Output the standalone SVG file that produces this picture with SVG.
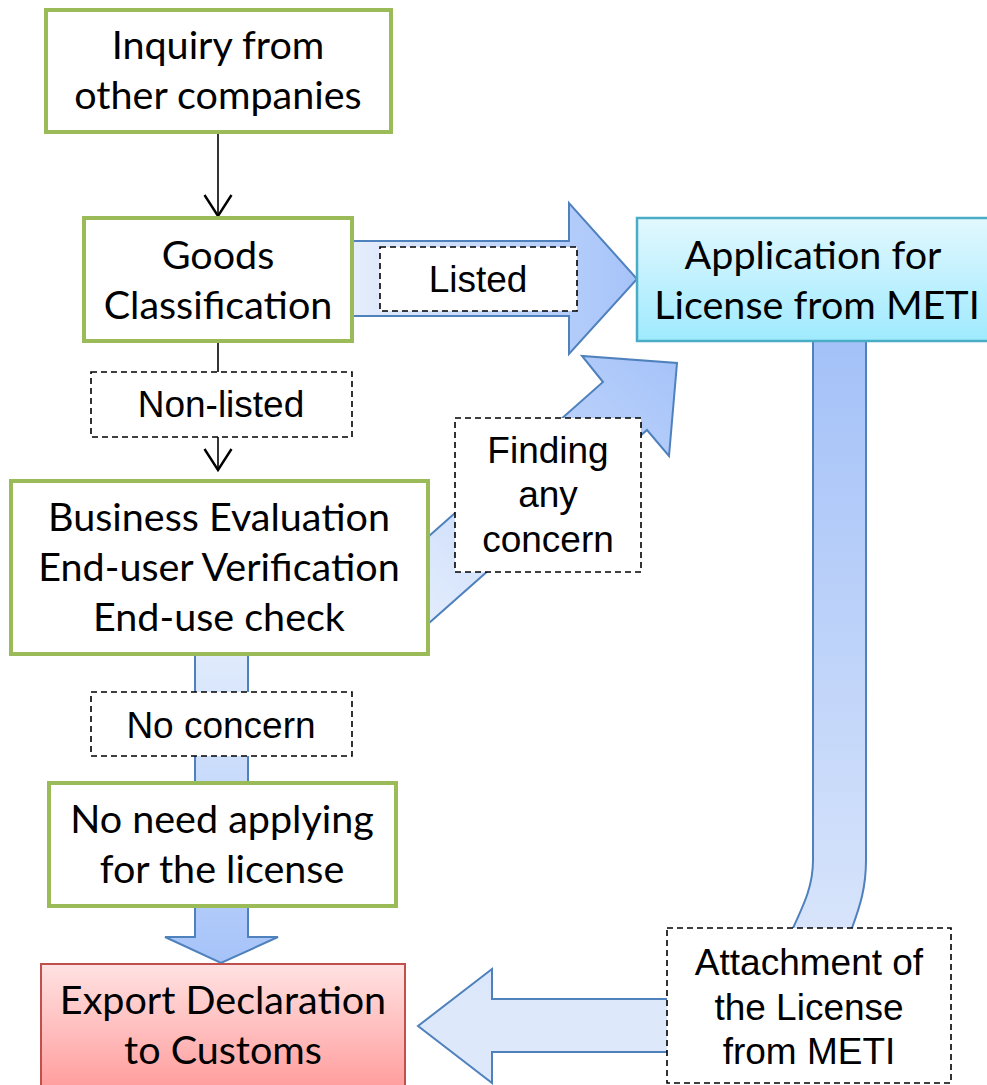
<svg xmlns="http://www.w3.org/2000/svg" width="987" height="1085" viewBox="0 0 987 1085">
<defs>
<style>
.node{fill:#FFFFFF;stroke:#9BBB59;stroke-width:4}
.lbl{fill:#FFFFFF;stroke:#000000;stroke-width:1.6;stroke-dasharray:6 4}
.tc{font-family:Lato,"Open Sans",sans-serif;font-size:39.5px;fill:#000;text-anchor:middle}
.ta{font-family:"Liberation Sans",Arial,sans-serif;font-size:37px;fill:#000;text-anchor:middle}
.blk{stroke:#4F81BD;stroke-width:2;stroke-linejoin:miter}
.ln{fill:none;stroke:#000;stroke-width:1.6}
</style>
<marker id="ah" markerUnits="userSpaceOnUse" markerWidth="30" markerHeight="30" viewBox="-16 -10 20 20" refX="0" refY="0" orient="auto" overflow="visible">
<path d="M-14,-9 L0,0 L-14,9" fill="none" stroke="#000" stroke-width="1.6"/>
</marker>
<linearGradient id="gListed" gradientUnits="userSpaceOnUse" x1="352" y1="0" x2="637" y2="0">
<stop offset="0" stop-color="#E6EEFC"/><stop offset="0.5" stop-color="#C2D7FB"/><stop offset="1" stop-color="#A6C3F9"/>
</linearGradient>
<linearGradient id="gFind" gradientUnits="userSpaceOnUse" x1="430" y1="620" x2="670" y2="360">
<stop offset="0" stop-color="#E2ECFC"/><stop offset="1" stop-color="#A6C3F9"/>
</linearGradient>
<linearGradient id="gDown" gradientUnits="userSpaceOnUse" x1="0" y1="655" x2="0" y2="963">
<stop offset="0" stop-color="#E0EBFC"/><stop offset="1" stop-color="#A6C3F9"/>
</linearGradient>
<linearGradient id="gCurve" gradientUnits="userSpaceOnUse" x1="0" y1="341" x2="0" y2="1000">
<stop offset="0" stop-color="#A4C1F8"/><stop offset="1" stop-color="#DDE8FB"/>
</linearGradient>
<linearGradient id="gMeti" x1="0" y1="0" x2="0" y2="1">
<stop offset="0" stop-color="#E2F8FE"/><stop offset="1" stop-color="#9FEAFE"/>
</linearGradient>
<linearGradient id="gExp" gradientUnits="userSpaceOnUse" x1="0" y1="964" x2="0" y2="1085">
<stop offset="0" stop-color="#FFE2E2"/><stop offset="1" stop-color="#FF9F9F"/>
</linearGradient>
</defs>
<rect width="987" height="1085" fill="#FFFFFF"/>

<g id="connectors">
<line class="ln" x1="218" y1="133" x2="218" y2="216" marker-end="url(#ah)"/>
<line class="ln" x1="218" y1="342" x2="218" y2="372"/>
<line class="ln" x1="218" y1="437" x2="218" y2="470" marker-end="url(#ah)"/>
<path class="blk" fill="url(#gListed)" d="M345,241 L569,241 L569,203 L637,279 L569,354 L569,316 L345,316 Z"/>
<path class="blk" fill="url(#gFind)" d="M420,544 L603,382 L582,356 L677,363 L669,456 L647,430 L420,631 Z"/>
<path class="blk" fill="url(#gDown)" d="M195,650 L248,650 L248,937 L278,937 L221,963 L165,937 L195,937 Z"/>
<path class="blk" fill="url(#gCurve)" d="M813,338 L866,338 L866,860 C866,888 860,906 852,928 C838,968 810,1052 760,1052 L492,1052 L492,1083 L418,1026 L492,969 L492,999 L740,999 C765,999 780,960 793,928 C805,902 813,885 813,860 Z"/>
</g>

<g id="n-inquiry">
<rect class="node" x="46" y="10" width="345" height="122"/>
<text class="tc" x="218" y="59">Inquiry from</text>
<text class="tc" x="218" y="109">other companies</text>
</g>
<g id="n-goods">
<rect class="node" x="84" y="218" width="268" height="123"/>
<text class="tc" x="218" y="269">Goods</text>
<text class="tc" x="218" y="319">Classification</text>
</g>
<g id="n-business">
<rect class="node" x="11" y="481" width="417" height="173"/>
<text class="tc" x="219" y="531">Business Evaluation</text>
<text class="tc" x="219" y="581">End-user Verification</text>
<text class="tc" x="219" y="631">End-use check</text>
</g>
<g id="n-noneed">
<rect class="node" x="49" y="783" width="347" height="123"/>
<text class="tc" x="222" y="833">No need applying</text>
<text class="tc" x="222" y="883">for the license</text>
</g>
<g id="n-export">
<rect x="41" y="964" width="364" height="140" fill="url(#gExp)" stroke="#C0504D" stroke-width="2"/>
<text class="tc" x="223" y="1014">Export Declaration</text>
<text class="tc" x="223" y="1064">to Customs</text>
</g>
<g id="n-meti">
<rect x="637" y="218" width="370" height="123" fill="url(#gMeti)" stroke="#4BACC6" stroke-width="2.5"/>
<text class="tc" x="813" y="269">Application for</text>
<text class="tc" x="817" y="319">License from METI</text>
</g>

<g id="l-listed">
<rect class="lbl" x="380" y="247" width="197" height="64"/>
<text class="ta" x="478" y="292">Listed</text>
</g>
<g id="l-nonlisted">
<rect class="lbl" x="91" y="372" width="261" height="65"/>
<text class="ta" x="221" y="417">Non-listed</text>
</g>
<g id="l-finding">
<rect class="lbl" x="455" y="418" width="186" height="154"/>
<text class="ta" x="548" y="463">Finding</text>
<text class="ta" x="548" y="507">any</text>
<text class="ta" x="548" y="552">concern</text>
</g>
<g id="l-noconcern">
<rect class="lbl" x="91" y="692" width="261" height="64"/>
<text class="ta" x="221" y="738">No concern</text>
</g>
<g id="l-attach">
<rect class="lbl" x="667" y="928" width="284" height="155"/>
<text class="ta" x="809" y="975">Attachment of</text>
<text class="ta" x="809" y="1020">the License</text>
<text class="ta" x="809" y="1064">from METI</text>
</g>
</svg>
